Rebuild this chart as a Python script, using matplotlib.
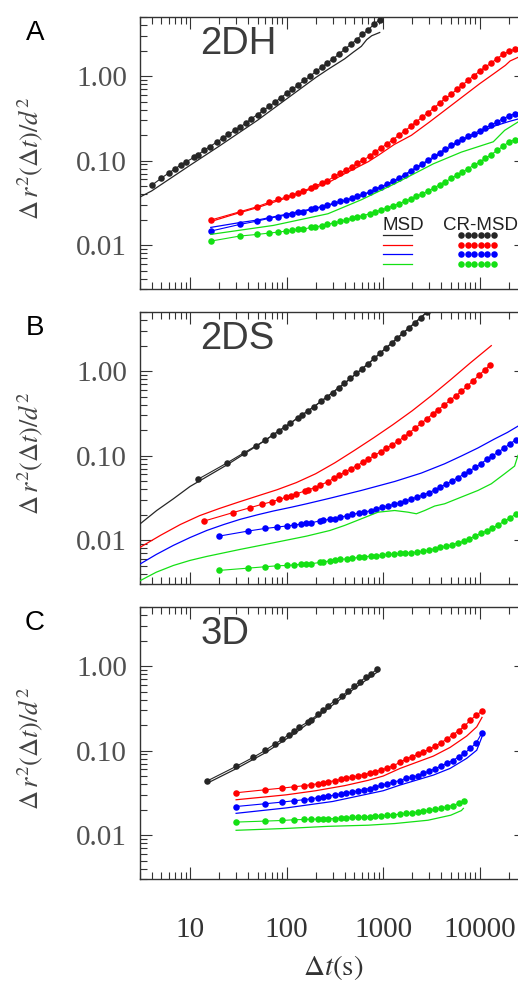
import numpy as np
import matplotlib
matplotlib.use("Agg")
import matplotlib.pyplot as plt
from matplotlib.ticker import FixedLocator, LogLocator, NullFormatter

plt.rcParams['mathtext.fontset'] = 'stix'
plt.rcParams['font.family'] = ['Liberation Sans', 'DejaVu Sans']

# ---------------- Panel A (2DH) ----------------
A_k_dot_t = [4, 5, 6, 7, 8, 9, 11, 12, 14, 16, 19, 22, 25, 29, 33, 38, 43, 50, 57, 66, 76, 87, 100,
             115, 132, 152, 175, 200, 230, 265, 305, 350, 400, 460, 530, 610, 700, 800, 920]
A_k_dot_v = [0.0508, 0.0615, 0.0711, 0.080, 0.0885, 0.096, 0.109, 0.117, 0.132, 0.146, 0.166, 0.185,
             0.204, 0.228, 0.249, 0.278, 0.313, 0.349, 0.392, 0.438, 0.492, 0.554, 0.624, 0.695, 0.789,
             0.889, 0.991, 1.135, 1.266, 1.438, 1.603, 1.837, 2.07, 2.37, 2.69, 3.11, 3.53, 4.09, 4.64]
A_k_line_t = [3.03, 4, 10, 20, 50, 100, 200, 268, 399, 491, 594, 675, 760, 920]
A_k_line_v = [0.037, 0.0437, 0.088, 0.148, 0.30, 0.537, 0.96, 1.20, 1.60, 1.92, 2.25, 2.70, 3.0, 3.28]

A_dot_t = [16.4, 32.8, 49.2, 65.6, 82, 98.4, 115, 131, 148, 180, 197, 230, 262, 312, 361, 410, 476,
           541, 623, 722, 820, 951, 1099, 1262, 1445, 1667, 1923, 2198, 2540, 2904, 3350, 3837, 4389,
           5063, 5750, 6588, 7532, 8614, 9937, 11370, 13120, 15020, 17330, 20000, 22910]
A_r_dot_v = [0.0198, 0.0248, 0.0284, 0.0320, 0.0347, 0.0370, 0.0391, 0.0412, 0.0436, 0.0477, 0.0495,
             0.0542, 0.0572, 0.0650, 0.0705, 0.0779, 0.0846, 0.0934, 0.102, 0.112, 0.126, 0.141, 0.158,
             0.176, 0.199, 0.223, 0.254, 0.288, 0.327, 0.368, 0.418, 0.479, 0.544, 0.607, 0.695, 0.782,
             0.888, 1.009, 1.136, 1.278, 1.426, 1.604, 1.804, 1.959, 2.07]
A_b_dot_v = [0.01465, 0.01757, 0.0192, 0.0207, 0.0218, 0.0226, 0.0235, 0.0244, 0.0248, 0.0264, 0.0272,
             0.0284, 0.0295, 0.0317, 0.0329, 0.0341, 0.0357, 0.0377, 0.0402, 0.0424, 0.0456, 0.0490,
             0.0527, 0.0572, 0.0621, 0.0680, 0.0758, 0.0830, 0.0918, 0.1014, 0.112, 0.124, 0.138, 0.151,
             0.166, 0.178, 0.193, 0.208, 0.225, 0.243, 0.263, 0.286, 0.313, 0.336, 0.358]
A_g_dot_v = [0.01115, 0.0128, 0.01337, 0.01387, 0.01426, 0.01465, 0.01492, 0.0153, 0.01546, 0.01618,
             0.01633, 0.01694, 0.01757, 0.01837, 0.01906, 0.01977, 0.0207, 0.0214, 0.0224, 0.0235,
             0.0246, 0.0260, 0.0274, 0.0292, 0.0308, 0.0329, 0.0350, 0.0377, 0.0405, 0.0436, 0.0473,
             0.0518, 0.0562, 0.0615, 0.0674, 0.0731, 0.080, 0.0877, 0.096, 0.106, 0.117, 0.132, 0.147,
             0.166, 0.176]
A_r_line_t = [16.4, 30, 50, 100, 268, 400, 700, 884, 1300, 1955, 3000, 4325, 6442, 9937, 14000, 18400, 20600, 24700]
A_r_line_v = [0.019, 0.0235, 0.0278, 0.0362, 0.0547, 0.070, 0.097, 0.115, 0.155, 0.199, 0.285, 0.392,
              0.555, 0.81, 1.07, 1.34, 1.51, 1.66]
A_b_line_t = [16.4, 33, 50, 100, 270, 600, 1300, 3000, 6000, 10000, 14000, 20000, 24800]
A_b_line_v = [0.0162, 0.0185, 0.0198, 0.0232, 0.0295, 0.0385, 0.057, 0.100, 0.165, 0.215, 0.255, 0.29, 0.31]
A_g_line_t = [16.4, 73, 268, 594, 1315, 3304, 6442, 13800, 18080, 24830]
A_g_line_v = [0.0134, 0.0171, 0.0235, 0.0344, 0.0532, 0.0916, 0.126, 0.167, 0.228, 0.286]

# ---------------- Panel B (2DS) ----------------
B_k_dot_t = [12, 24, 36, 48, 60, 72, 84, 96, 108, 132, 144, 168, 192, 228, 264, 300, 348, 396, 456,
             528, 600, 696, 804, 924, 1068, 1224, 1404, 1620, 1860, 2136, 2460, 2832]
B_k_dot_v = [0.0522, 0.0815, 0.1076, 0.130, 0.152, 0.175, 0.198, 0.219, 0.240, 0.282, 0.301, 0.340,
             0.380, 0.440, 0.497, 0.557, 0.638, 0.716, 0.818, 0.94, 1.06, 1.22, 1.41, 1.62, 1.88, 2.15,
             2.47, 2.85, 3.27, 3.74, 4.30, 4.94]
B_k_line_t = [3.03, 4.52, 6.72, 10, 24.3, 50, 100, 200, 400, 700, 1200, 2000, 3000]
B_k_line_v = [0.0155, 0.0224, 0.0308, 0.0431, 0.078, 0.132, 0.225, 0.392, 0.72, 1.22, 2.1, 3.5, 5.3]

B_r_dot_t = [14, 28, 42, 56, 70, 84, 98, 112, 126, 154, 168, 196, 224, 266, 308, 350, 406, 462, 532,
             616, 700, 812, 938, 1078, 1232, 1414, 1624, 1862, 2142, 2464, 2828, 3248, 3724, 4270,
             4900, 5628, 6454, 7406, 8498, 9758, 11200, 12880]
B_r_dot_v = [0.0168, 0.0212, 0.0242, 0.0266, 0.0284, 0.0303, 0.0321, 0.0337, 0.0352, 0.0381, 0.0394,
             0.0418, 0.0446, 0.0491, 0.0538, 0.0583, 0.0641, 0.0697, 0.076, 0.0835, 0.0908, 0.1005,
             0.111, 0.122, 0.134, 0.147, 0.165, 0.186, 0.211, 0.240, 0.272, 0.310, 0.351, 0.395, 0.449,
             0.508, 0.577, 0.664, 0.766, 0.887, 1.028, 1.19]
B_r_line_t = [3.03, 5.01, 7.94, 12.6, 20.0, 31.6, 50.1, 79.4, 126, 200, 316, 501, 794, 1259, 1995,
              3162, 5012, 7943, 13150]
B_r_line_v = [0.0082, 0.01148, 0.0153, 0.0195, 0.0236, 0.0281, 0.0333, 0.0394, 0.0479, 0.0610, 0.0822,
              0.1148, 0.162, 0.232, 0.339, 0.513, 0.794, 1.245, 2.0]

B_bg_dot_t = [20, 40, 60, 80, 100, 120, 140, 160, 180, 220, 240, 280, 320, 360, 420, 480, 560, 640,
              740, 840, 980, 1120, 1280, 1480, 1700, 1960, 2240, 2580, 2960, 3400, 3900, 4480, 5140,
              5900, 6780, 7780, 8940, 10260, 11780, 13520, 15520, 17820, 20460, 23500]
B_b_dot_v = [0.01115, 0.0128, 0.01374, 0.01426, 0.0147, 0.01506, 0.01546, 0.01574, 0.0160, 0.0169,
             0.0172, 0.0176, 0.0180, 0.0187, 0.0194, 0.0201, 0.0209, 0.0216, 0.0222, 0.0233, 0.0244,
             0.0253, 0.0264, 0.0277, 0.0290, 0.0306, 0.0323, 0.0341, 0.0363, 0.0391, 0.0424, 0.0460,
             0.0499, 0.0547, 0.0598, 0.0656, 0.0725, 0.080, 0.0901, 0.0995, 0.110, 0.123, 0.137, 0.154]
B_g_dot_v = [0.00438, 0.00466, 0.00484, 0.00497, 0.00501, 0.0051, 0.00515, 0.0052, 0.00525, 0.00544,
             0.00549, 0.00569, 0.00579, 0.0059, 0.00601, 0.00612, 0.00623, 0.00635, 0.00647, 0.00653,
             0.00664, 0.00676, 0.00683, 0.00695, 0.00702, 0.00708, 0.00721, 0.00741, 0.00762, 0.00789,
             0.00819, 0.00841, 0.00881, 0.00921, 0.00964, 0.01037, 0.01115, 0.0120, 0.0129, 0.01387,
             0.0152, 0.01663, 0.0182, 0.0203]
B_b_line_t = [3.03, 4.47, 6.71, 10, 14.9, 22.4, 33, 50.1, 73, 112, 161, 281, 594, 1315, 2477, 4325,
              6442, 9550, 14160, 19320, 24830]
B_b_line_v = [0.0052, 0.00676, 0.00865, 0.01072, 0.0130, 0.0153, 0.0176, 0.01995, 0.0221, 0.0245,
              0.0269, 0.0313, 0.0387, 0.0494, 0.0621, 0.080, 0.0989, 0.123, 0.157, 0.188, 0.223]
B_g_line_t = [3.03, 4.47, 6.72, 10, 14.9, 33, 73, 161, 281, 399, 594, 884, 1315, 1807, 2205, 2689,
              3410, 4325, 6442, 9580, 13150, 18080, 22910, 24830]
B_g_line_v = [0.0033, 0.00417, 0.00501, 0.00575, 0.00641, 0.00776, 0.00929, 0.01115, 0.0130, 0.01492,
              0.01787, 0.0214, 0.0224, 0.0214, 0.0205, 0.0224, 0.0253, 0.0269, 0.0323, 0.0387, 0.0464,
              0.061, 0.0751, 0.1005]

# ---------------- Panel C (3D) ----------------
C_k_dot_t = [15, 30, 45, 60, 75, 90, 105, 120, 135, 165, 180, 210, 240, 270, 315, 375, 435, 495, 570,
             660, 750, 870]
C_k_dot_v = [0.0436, 0.065, 0.083, 0.1005, 0.119, 0.1356, 0.154, 0.170, 0.190, 0.217, 0.232, 0.268,
             0.304, 0.339, 0.389, 0.446, 0.506, 0.574, 0.653, 0.734, 0.804, 0.93]
C_k_line_t = [15, 30, 60, 120, 240, 500, 870]
C_k_line_v = [0.041, 0.061, 0.094, 0.158, 0.285, 0.54, 0.85]

C_dot_t = [30, 60, 90, 120, 150, 180, 210, 240, 270, 315, 363, 416, 476, 549, 628, 724, 829, 956,
           1103, 1262, 1493, 1722, 1972, 2275, 2600, 3000, 3435, 3965, 4540, 5240, 6040, 6920, 7980,
           9210, 10540]
C_r_dot_v = [0.0317, 0.0344, 0.036, 0.0373, 0.0384, 0.0395, 0.0405, 0.0414, 0.0428, 0.0440, 0.0455,
             0.047, 0.0485, 0.050, 0.052, 0.054, 0.0565, 0.059, 0.062, 0.066, 0.0725, 0.0793, 0.0845,
             0.090, 0.096, 0.104, 0.112, 0.124, 0.136, 0.153, 0.172, 0.195, 0.228, 0.265, 0.291]
C_b_dot_v = [0.0218, 0.0235, 0.0246, 0.0255, 0.0262, 0.0269, 0.0277, 0.0282, 0.029, 0.0298, 0.0306,
             0.0314, 0.0323, 0.0333, 0.0344, 0.0356, 0.037, 0.0387, 0.0405, 0.0424, 0.0442, 0.0469,
             0.0481, 0.0504, 0.0537, 0.0572, 0.061, 0.0656, 0.0705, 0.0759, 0.0845, 0.0927, 0.106,
             0.124, 0.163]
C_g_dot_v = [0.01426, 0.01465, 0.0149, 0.0152, 0.0153, 0.01546, 0.01546, 0.0155, 0.0156, 0.0157,
             0.0158, 0.0160, 0.0162, 0.0163, 0.0164, 0.0166, 0.0167, 0.0169, 0.0171, 0.0174, 0.0177,
             0.0181, 0.0182, 0.0187, 0.0192, 0.0196, 0.0201, 0.0207, 0.0216, 0.0224, 0.0237, 0.0253]
C_r_line_t = [30, 60, 100, 200, 400, 700, 1000, 1493, 3304, 4920, 7310, 9290, 10540]
C_r_line_v = [0.0262, 0.0283, 0.030, 0.0335, 0.0385, 0.0445, 0.050, 0.0615, 0.0861, 0.109, 0.1485, 0.191, 0.247]
C_b_line_t = [30, 100, 300, 1000, 1493, 3304, 4920, 7310, 9290, 10540]
C_b_line_v = [0.0181, 0.021, 0.025, 0.0335, 0.0391, 0.0513, 0.0615, 0.0809, 0.101, 0.146]
C_g_line_t = [30, 100, 268, 700, 1315, 2911, 5000, 6442, 6760]
C_g_line_v = [0.0114, 0.0120, 0.0127, 0.0131, 0.0137, 0.0150, 0.0172, 0.0195, 0.0207]

panel_letters = ['A', 'B', 'C']
panel_titles = ['2DH', '2DS', '3D']
ytick_vals = [0.01, 0.1, 1.0]
ytick_labels = ['0.01', '0.10', '1.00']
xtick_vals = [10, 100, 1000, 10000]
xtick_labels = ['10', '100', '1000', '10000']
legend_titles = ['MSD', 'CR-MSD']

K = '#262626'
R = '#ff0000'
Bc = '#0000ff'
G = '#14e014'
colors = [K, R, Bc, G]
MS = 4.7

W, H = 518, 982
fig = plt.figure(figsize=(W / 100, H / 100), dpi=100)

ax_left_px = 139.5
ax_w_px = 386.4
ax_h_px = 272.3
tops = [17, 312, 607]

panels = [
    dict(lines=[(A_k_line_t, A_k_line_v, K), (A_r_line_t, A_r_line_v, R),
                (A_b_line_t, A_b_line_v, Bc), (A_g_line_t, A_g_line_v, G)],
         dots=[(A_k_dot_t, A_k_dot_v, K), (A_dot_t, A_r_dot_v, R),
               (A_dot_t, A_b_dot_v, Bc), (A_dot_t, A_g_dot_v, G)]),
    dict(lines=[(B_k_line_t, B_k_line_v, K), (B_r_line_t, B_r_line_v, R),
                (B_b_line_t, B_b_line_v, Bc), (B_g_line_t, B_g_line_v, G)],
         dots=[(B_k_dot_t, B_k_dot_v, K), (B_r_dot_t, B_r_dot_v, R),
               (B_bg_dot_t, B_b_dot_v, Bc), (B_bg_dot_t, B_g_dot_v, G)]),
    dict(lines=[(C_k_line_t, C_k_line_v, K), (C_r_line_t, C_r_line_v, R),
                (C_b_line_t, C_b_line_v, Bc), (C_g_line_t, C_g_line_v, G)],
         dots=[(C_k_dot_t, C_k_dot_v, K), (C_dot_t, C_r_dot_v, R),
               (C_dot_t, C_b_dot_v, Bc), (C_dot_t[:len(C_g_dot_v)], C_g_dot_v, G)]),
]

axes = []
for i, (top, p) in enumerate(zip(tops, panels)):
    ax = fig.add_axes([ax_left_px / W, (H - top - ax_h_px) / H, ax_w_px / W, ax_h_px / H])
    axes.append(ax)
    for t, v, c in p['dots']:
        ax.plot(t, v, '-', color=c, lw=0.8, marker='o', ms=MS, mew=0, zorder=2)
    for t, v, c in p['lines']:
        ax.plot(t, v, '-', color=c, lw=0.9, zorder=3)
    ax.set_xscale('log')
    ax.set_yscale('log')
    ax.set_xlim(3, 3e4)
    ax.set_ylim(0.003, 5)
    ax.xaxis.set_major_locator(FixedLocator(xtick_vals))
    ax.xaxis.set_minor_locator(LogLocator(base=10, subs=np.arange(2, 10), numticks=20))
    ax.yaxis.set_major_locator(FixedLocator(ytick_vals))
    ax.yaxis.set_minor_locator(LogLocator(base=10, subs=np.arange(2, 10), numticks=20))
    ax.xaxis.set_minor_formatter(NullFormatter())
    ax.yaxis.set_minor_formatter(NullFormatter())
    ax.set_yticks(ytick_vals, ytick_labels, fontfamily='Liberation Serif', fontsize=21, color='#505050')
    if i == 2:
        ax.set_xticks(xtick_vals, xtick_labels, fontfamily='Liberation Serif', fontsize=21, color='#333333')
    else:
        ax.set_xticks(xtick_vals, [''] * 4)
    ax.tick_params(which='both', direction='in', top=True, right=True, color='#333333', width=0.8)
    ax.tick_params(which='major', length=8.5)
    ax.tick_params(which='minor', length=5)
    ax.tick_params(axis='y', which='major', pad=9)
    ax.tick_params(axis='x', which='major', pad=27)
    for s in ax.spines.values():
        s.set_color('#333333')
        s.set_linewidth(1.0)
    ax.set_ylabel(r'$\Delta\, r^2(\Delta t)/d^2$', fontsize=19, color='#444444')
    ax.yaxis.set_label_coords(-0.245, 0.48)
    ax.text(0.158, 1 - 37 / ax_h_px, panel_titles[i], transform=ax.transAxes, ha='left',
            va='baseline', fontsize=27.5, color='#3c3c3c', family=['Liberation Sans'])
    fig.text(35 / W, 1 - (top + 16) / H, panel_letters[i], ha='center', va='center',
             fontsize=20, color='black', family=['Liberation Sans'])

fig.text(333 / W, 1 - 968 / H, r'$\Delta t(\mathrm{s})$', ha='center', va='center',
         fontsize=21, color='#333333')

# legend in panel A (drawn manually)
axA = axes[0]
def fx(px):
    return (px - ax_left_px) / ax_w_px
def fy(py):
    return (tops[0] + ax_h_px - py) / ax_h_px
axA.text(fx(383), fy(230), legend_titles[0], transform=axA.transAxes, ha='left', va='baseline',
         fontsize=13.5, color='#222222')
axA.text(fx(443), fy(230), legend_titles[1], transform=axA.transAxes, ha='left', va='baseline',
         fontsize=13.5, color='#222222')
leg_y = [235.3, 245.3, 254.3, 264.0]
for c, yy in zip(colors, leg_y):
    axA.plot([fx(383), fx(412)], [fy(yy), fy(yy)], '-', color=c, lw=0.9, transform=axA.transAxes,
             clip_on=False)
    xs = np.linspace(fx(461), fx(494), 6)
    axA.plot(xs, [fy(yy)] * 6, 'o', color=c, ms=MS, mew=0, transform=axA.transAxes, clip_on=False)

fig.savefig('out.png', dpi=100)
